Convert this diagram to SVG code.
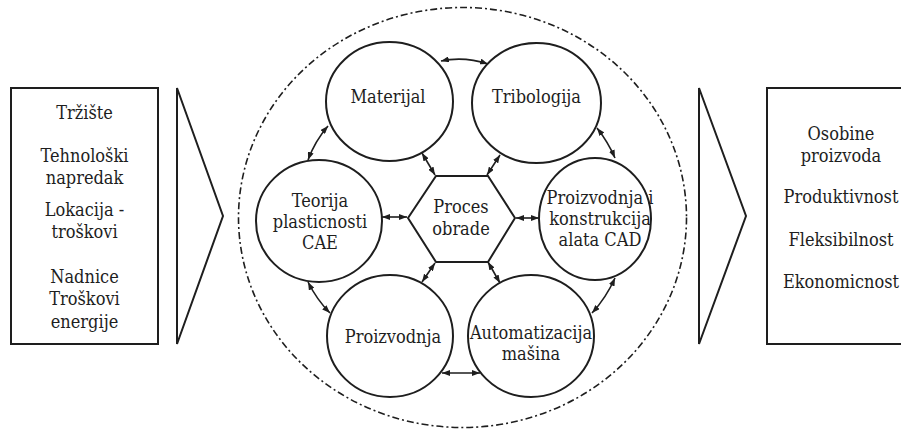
<svg xmlns="http://www.w3.org/2000/svg" width="901" height="430" viewBox="0 0 901 430">
  <defs>
    <marker id="tip" viewBox="0 0 8 6" refX="8" refY="3" markerWidth="8" markerHeight="6" markerUnits="userSpaceOnUse" orient="auto-start-reverse">
      <path d="M0,0 L8,3 L0,6 z" fill="#1e1e1e"/>
    </marker>
  </defs>
  <style>
    .shape { fill: #ffffff; stroke: #1e1e1e; stroke-width: 2; }
    text { font-family: 'DejaVu Serif Condensed', 'DejaVu Serif', serif; font-stretch: condensed; font-size: 18px; fill: #1e1e1e; text-anchor: middle; }
    .link { fill: none; stroke: #1e1e1e; stroke-width: 1.6; marker-start: url(#tip); marker-end: url(#tip); }
    .boundary { fill: none; stroke: #1e1e1e; stroke-width: 1.6; stroke-dasharray: 7 3 2 3; }
  </style>
  <rect width="901" height="430" fill="#ffffff"/>

  <!-- input factors -->
  <g id="inputs">
    <rect class="shape" x="11" y="88" width="147" height="256"/>
    <text x="84.5" y="119">Tržište</text>
    <text x="84.5" y="162">Tehnološki</text>
    <text x="84.5" y="184">napredak</text>
    <text x="84.5" y="216">Lokacija -</text>
    <text x="84.5" y="238">troškovi</text>
    <text x="84.5" y="283">Nadnice</text>
    <text x="84.5" y="305">Troškovi</text>
    <text x="84.5" y="328">energije</text>
  </g>
  <g id="arrow-in">
    <polygon class="shape" points="177,88 223,216 177,344"/>
  </g>

  <!-- system boundary -->
  <g id="boundary">
    <ellipse class="boundary" cx="462.5" cy="217.5" rx="224" ry="210"/>
  </g>

  <!-- connectors -->
  <g id="connectors">
    <path class="link" d="M441,61 Q464,56 488,64"/>
    <path class="link" d="M328,126 Q315,141 308,160"/>
    <path class="link" d="M422,153 L435,175"/>
    <path class="link" d="M382,217 L407,217"/>
    <path class="link" d="M308,282 Q317,300 330,313"/>
    <path class="link" d="M435,263 L422,282"/>
    <path class="link" d="M442,373 L480,373"/>
    <path class="link" d="M500,155 L487,175"/>
    <path class="link" d="M597,128 Q608,142 615,158"/>
    <path class="link" d="M516,218 L539,218"/>
    <path class="link" d="M615,278 Q606,298 592,313"/>
    <path class="link" d="M488,262 L500,283"/>
  </g>

  <!-- process nodes -->
  <g id="materijal">
    <ellipse class="shape" cx="389.5" cy="101.5" rx="63.5" ry="59.5"/>
    <text x="388" y="103">Materijal</text>
  </g>
  <g id="tribologija">
    <ellipse class="shape" cx="536.5" cy="103" rx="64.5" ry="60"/>
    <text x="536.5" y="103">Tribologija</text>
  </g>
  <g id="teorija">
    <ellipse class="shape" cx="319" cy="221" rx="63" ry="61"/>
    <text x="320" y="207">Teorija</text>
    <text x="320" y="228">plasticnosti</text>
    <text x="320" y="249">CAE</text>
  </g>
  <g id="proces">
    <polygon class="shape" points="436,176 488,176 515,218 488,262 436,262 408,218"/>
    <text x="461" y="213">Proces</text>
    <text x="461" y="235">obrade</text>
  </g>
  <g id="alati">
    <ellipse class="shape" cx="595" cy="219" rx="56" ry="61"/>
    <text x="600" y="204">Proizvodnja i</text>
    <text x="600" y="225">konstrukcija</text>
    <text x="600" y="246">alata CAD</text>
  </g>
  <g id="proizvodnja">
    <ellipse class="shape" cx="390" cy="336" rx="63" ry="61"/>
    <text x="393" y="343">Proizvodnja</text>
  </g>
  <g id="automatizacija">
    <ellipse class="shape" cx="531" cy="336" rx="63" ry="61"/>
    <text x="531" y="339">Automatizacija</text>
    <text x="531" y="360">mašina</text>
  </g>

  <!-- outputs -->
  <g id="arrow-out">
    <polygon class="shape" points="699,88 746,216 699,344"/>
  </g>
  <g id="outputs">
    <rect class="shape" x="767" y="88" width="150" height="256"/>
    <text x="841" y="140">Osobine</text>
    <text x="841" y="162">proizvoda</text>
    <text x="841" y="203">Produktivnost</text>
    <text x="841" y="246">Fleksibilnost</text>
    <text x="841" y="288">Ekonomicnost</text>
  </g>
</svg>
